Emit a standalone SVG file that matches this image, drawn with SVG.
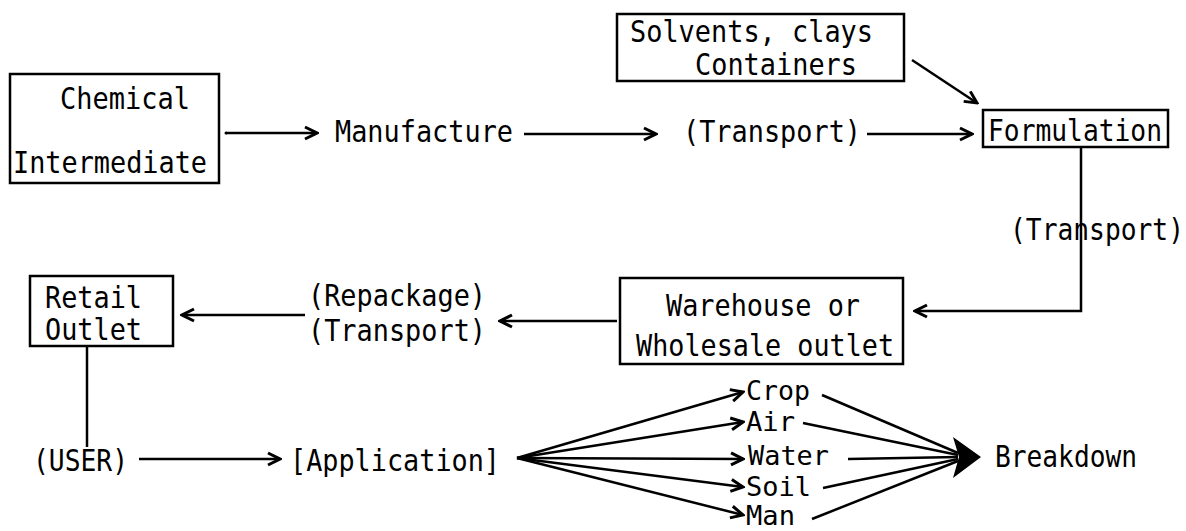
<svg xmlns="http://www.w3.org/2000/svg" width="1186" height="531" viewBox="0 0 1186 531">
<style>
text{font-family:"DejaVu Sans Mono","Liberation Mono",monospace;font-size:30px;fill:#000}
text.s{font-size:27px}
.box{fill:none;stroke:#000;stroke-width:2.5}
.ln{fill:none;stroke:#000;stroke-width:2.5}
.arr{fill:none;stroke:#000;stroke-width:2.5;marker-end:url(#v)}
</style>
<defs>
<marker id="v" markerUnits="userSpaceOnUse" markerWidth="16" markerHeight="16" refX="14" refY="8" orient="auto">
<path d="M2,2 L14,8 L2,14" fill="none" stroke="#000" stroke-width="3"/>
</marker>
</defs>
<rect width="1186" height="531" fill="#fff"/>
<g id="chemical-intermediate">
<rect class="box" x="10" y="74" width="209" height="109"/>
<text x="60" y="109" textLength="130" lengthAdjust="spacingAndGlyphs">Chemical</text>
<text x="13" y="173" textLength="194" lengthAdjust="spacingAndGlyphs">Intermediate</text>
</g>
<g id="manufacture"><text x="335" y="142" textLength="178" lengthAdjust="spacingAndGlyphs">Manufacture</text></g>
<g id="transport1"><text x="683" y="142" textLength="178" lengthAdjust="spacingAndGlyphs">(Transport)</text></g>
<g id="solvents">
<rect class="box" x="617" y="14" width="287" height="67"/>
<text x="630" y="42" textLength="243" lengthAdjust="spacingAndGlyphs">Solvents, clays</text>
<text x="695" y="75" textLength="162" lengthAdjust="spacingAndGlyphs">Containers</text>
</g>
<g id="formulation">
<rect class="box" x="983" y="110" width="185" height="37"/>
<text x="988" y="141" textLength="174" lengthAdjust="spacingAndGlyphs">Formulation</text>
</g>
<g id="transport2"><text x="1010" y="240" textLength="174" lengthAdjust="spacingAndGlyphs">(Transport)</text></g>
<g id="warehouse">
<rect class="box" x="620" y="278" width="283" height="86"/>
<text x="666" y="316" textLength="194" lengthAdjust="spacingAndGlyphs">Warehouse or</text>
<text x="636" y="356" textLength="258" lengthAdjust="spacingAndGlyphs">Wholesale outlet</text>
</g>
<g id="repackage">
<text x="308" y="306" textLength="178" lengthAdjust="spacingAndGlyphs">(Repackage)</text>
<text x="308" y="341" textLength="178" lengthAdjust="spacingAndGlyphs">(Transport)</text>
</g>
<g id="retail">
<rect class="box" x="30" y="276" width="143" height="70"/>
<text x="45" y="308" textLength="97" lengthAdjust="spacingAndGlyphs">Retail</text>
<text x="45" y="340" textLength="97" lengthAdjust="spacingAndGlyphs">Outlet</text>
</g>
<g id="user"><text x="33" y="471" textLength="95" lengthAdjust="spacingAndGlyphs">(USER)</text></g>
<g id="application"><text x="290" y="471" textLength="210" lengthAdjust="spacingAndGlyphs">[Application]</text></g>
<g id="crop"><text class="s" x="746" y="400" textLength="64" lengthAdjust="spacingAndGlyphs">Crop</text></g>
<g id="air"><text class="s" x="746" y="431" textLength="49" lengthAdjust="spacingAndGlyphs">Air</text></g>
<g id="water"><text class="s" x="748" y="465" textLength="81" lengthAdjust="spacingAndGlyphs">Water</text></g>
<g id="soil"><text class="s" x="746" y="496" textLength="65" lengthAdjust="spacingAndGlyphs">Soil</text></g>
<g id="man"><text class="s" x="746" y="525" textLength="49" lengthAdjust="spacingAndGlyphs">Man</text></g>
<g id="breakdown"><text x="995" y="467" textLength="142" lengthAdjust="spacingAndGlyphs">Breakdown</text></g>
<g id="connectors">
<circle cx="226" cy="133" r="1.5"/>
<line class="arr" x1="226" y1="133" x2="317" y2="133"/>
<line class="arr" x1="524" y1="134" x2="656" y2="134"/>
<line class="arr" x1="867" y1="134" x2="972" y2="134"/>
<line class="arr" x1="912" y1="60" x2="977" y2="103"/>
<polyline class="arr" points="1081,147 1081,311 915,311"/>
<line class="arr" x1="617" y1="321" x2="500" y2="321"/>
<line class="arr" x1="305" y1="315" x2="182" y2="315"/>
<line class="ln" x1="87" y1="346" x2="87" y2="447"/>
<line class="arr" x1="139" y1="459" x2="280" y2="459"/>
<line class="arr" x1="517" y1="458" x2="743" y2="392"/>
<line class="arr" x1="517" y1="458" x2="743" y2="422"/>
<line class="arr" x1="517" y1="458" x2="743" y2="459"/>
<line class="arr" x1="517" y1="458" x2="743" y2="487"/>
<line class="arr" x1="517" y1="458" x2="743" y2="515"/>
<line class="ln" x1="822" y1="395" x2="958" y2="453"/>
<line class="ln" x1="803" y1="423" x2="958" y2="455"/>
<line class="ln" x1="848" y1="459" x2="958" y2="457"/>
<line class="ln" x1="823" y1="488" x2="958" y2="459"/>
<line class="ln" x1="812" y1="519" x2="958" y2="461"/>
<polygon points="953,437 981,457 953,478 959,457" fill="#000"/>
</g>
</svg>
